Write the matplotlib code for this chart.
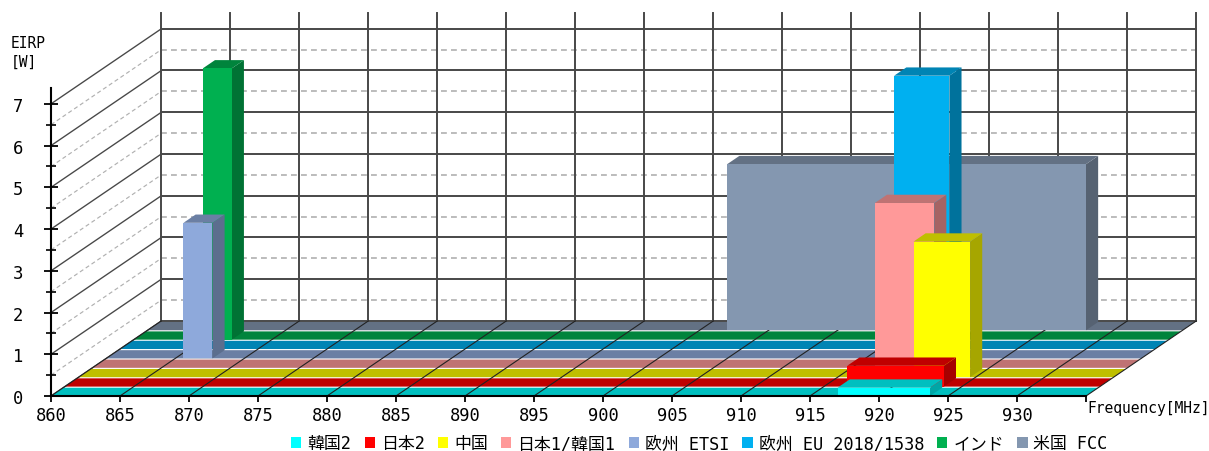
#!/usr/bin/env python3

import matplotlib
matplotlib.use('Agg')
import matplotlib.pyplot as plt
import numpy as np
from matplotlib.patches import Patch, Polygon
from matplotlib.colors import to_rgb

plt.rcParams['font.family'] = ['DejaVu Sans Mono', 'Noto Sans CJK JP']

regions = ['韓国2', '日本2', '中国', '日本1/韓国1', '欧州 ETSI',
           '欧州 EU 2018/1538', 'インド', '米国 FCC']
colors = ['#00FFFF', '#FF0000', '#FFFF00', '#FF9999', '#8EA9DB',
          '#00B0F0', '#00B050', '#8497B0']

# one list of (low, high, watts) per row, front row first
korea2 = [(917.0, 919.2, 0.2), (919.2, 923.7, 0.2)]
japan2 = [(916.7, 920.4, 0.5), (920.4, 923.7, 0.5)]
china = [(920.5, 924.6, 3.25)]
japan1 = [(916.7, 921.0, 3.95)]
etsi = [(865.6, 867.7, 3.25)]
eu = [(916.1, 920.1, 6.55)]
india = [(865.0, 867.1, 6.5)]
fcc = [(902.0, 908.2, 3.98), (908.2, 912.8, 3.98), (912.8, 928.0, 3.98)]
rows = [korea2, japan2, china, japan1, etsi, eu, india, fcc]

freq_ticks = list(range(860, 936, 5))
freq_labels = [str(f) for f in freq_ticks[:-1]] + ['']
eirp_ticks = list(range(0, 8))

XMIN, XMAX = 860, 935
YMAX = 7.38
# oblique offset of one row, in MHz and W
ROW_DX = 1.0
ROW_DY = 0.225
N_ROWS = len(rows)
BAR_DEPTH = 0.88


def proj(freq, watts, depth):
    return freq + depth * ROW_DX, watts + depth * ROW_DY


def shade(color, k):
    return tuple(c * k for c in to_rgb(color))


def poly(ax, pts, color, z):
    ax.add_patch(Polygon(pts, closed=True, facecolor=color, edgecolor='none',
                         clip_on=False, zorder=z))


def draw_row_bars(ax, segments, row, color, z):
    d0 = row
    d1 = row + BAR_DEPTH
    # touching segments share one side and one top, only the front shows the joints
    low = segments[0][0]
    high = segments[-1][1]
    watts = segments[-1][2]
    poly(ax, [proj(high, 0, d0), proj(high, 0, d1), proj(high, watts, d1), proj(high, watts, d0)],
         shade(color, 0.65), z)
    poly(ax, [proj(low, watts, d0), proj(high, watts, d0), proj(high, watts, d1), proj(low, watts, d1)],
         shade(color, 0.75), z)
    for low, high, watts in segments:
        poly(ax, [proj(low, 0, d0), proj(high, 0, d0), proj(high, watts, d0), proj(low, watts, d0)],
             color, z)


def draw_walls(ax):
    kw = dict(clip_on=False, zorder=1)
    for v in np.arange(0, YMAX, 0.5):
        major = float(v).is_integer()
        style = dict(color='#484848', lw=1.4, ls='-') if major else dict(color='#b0b0b0', lw=1.2, ls=(0, (3.5, 2.5)))
        x0, y0 = proj(XMIN, v, 0)
        x1, y1 = proj(XMIN, v, N_ROWS)
        x2, y2 = proj(XMAX, v, N_ROWS)
        ax.plot([x0, x1], [y0, y1], **{**style, 'lw': style['lw'] * 0.7}, **kw)
        ax.plot([x1, x2], [y1, y2], **style, **kw)
    for f in freq_ticks:
        x, y = proj(f, 0, N_ROWS)
        ax.plot([x, x], [y, YMAX + N_ROWS * ROW_DY], color='#484848', lw=1.4, **kw)


def draw_floor(ax):
    for row, color in enumerate(colors):
        d0, d1 = row, row + BAR_DEPTH
        poly(ax, [proj(XMIN, 0, d0), proj(XMAX, 0, d0), proj(XMAX, 0, d1), proj(XMIN, 0, d1)],
             shade(color, 0.75), 2)
    for f in freq_ticks:
        x0, y0 = proj(f, 0, 0)
        x1, y1 = proj(f, 0, N_ROWS)
        ax.plot([x0, x1], [y0, y1], color='#222222', lw=0.8, clip_on=False, zorder=3)


if __name__ == '__main__':
    fig = plt.figure(figsize=(12.09, 4.52), dpi=100)
    ax = fig.add_axes([51 / 1209, (452 - 397) / 452, 1035 / 1209, 308 / 452])
    ax.set_xlim(XMIN, XMAX)
    ax.set_ylim(0, YMAX)

    draw_walls(ax)
    draw_floor(ax)

    # back rows first so nearer bars cover them
    for row in range(N_ROWS - 1, -1, -1):
        draw_row_bars(ax, rows[row], row, colors[row], 4 + (N_ROWS - row))

    for side in ['top', 'right']:
        ax.spines[side].set_visible(False)
    for side in ['left', 'bottom']:
        ax.spines[side].set_linewidth(1.5)
        ax.spines[side].set_zorder(20)

    ax.set_xticks(freq_ticks, freq_labels)
    ax.set_yticks(eirp_ticks)
    ax.set_yticks(np.arange(0.5, 7, 0.5), minor=True)
    ax.tick_params(axis='x', direction='inout', length=8.5, width=1.3, labelsize=12.3, pad=3)
    ax.tick_params(axis='y', direction='inout', length=9.6, width=1.3, labelsize=12.3, pad=15)
    ax.tick_params(axis='y', which='minor', direction='inout', length=6.7, width=1.2)
    for t in ax.xaxis.get_major_ticks() + ax.yaxis.get_major_ticks():
        t.tick1line.set_zorder(21)

    fig.text(11 / 1209, 1 - 53 / 452, 'EIRP\n[W]', fontsize=10.5, va='center', ha='left', linespacing=1.3)
    fig.text(1087 / 1209, 1 - 409 / 452, 'Frequency[MHz]', fontsize=10.5, va='center', ha='left')

    handles = [Patch(facecolor=c, edgecolor='none') for c in colors]
    fig.legend(handles, regions, loc='center', bbox_to_anchor=(699.5 / 1209, 1 - 444.5 / 452),
               ncol=N_ROWS, frameon=False, fontsize=12.2, handlelength=0.6, handleheight=0.6,
               handletextpad=0.35, columnspacing=0.79, borderpad=0, borderaxespad=0)

    fig.savefig('out.png', dpi=100)
